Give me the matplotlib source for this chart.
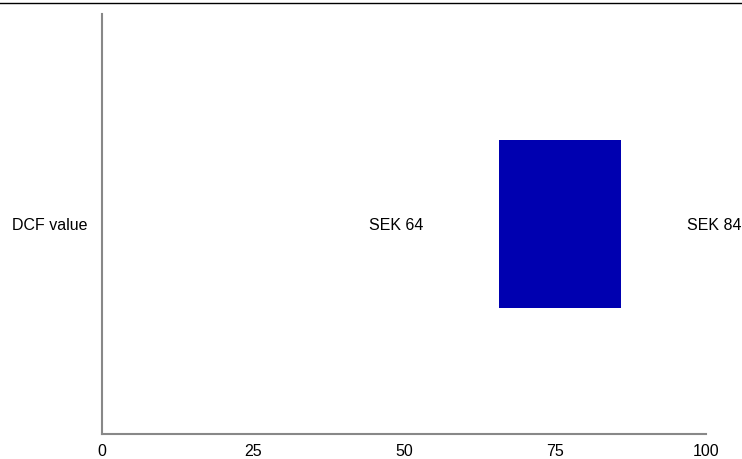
import matplotlib
matplotlib.use("Agg")
import matplotlib.pyplot as plt
from matplotlib.lines import Line2D

plt.rcParams['font.family'] = ['Liberation Sans', 'DejaVu Sans']

# values
category = ["DCF value"]
bar_start = [65.7]
bar_end = [85.9]
low_label = ["SEK 64"]
high_label = ["SEK 84"]
xticks = [0, 25, 50, 75, 100]

W, H = 742, 459
fig = plt.figure(figsize=(W / 100, H / 100), dpi=100)
ax = fig.add_axes([102 / W, 1 - 434 / H, (706 - 102) / W, (434 - 14) / H])

widths = [e - s for s, e in zip(bar_start, bar_end)]
ax.barh([0], widths, left=bar_start, height=0.4, color="#0000b0")

ax.set_xlim(0, 100)
ax.set_ylim(-0.5, 0.5)
ax.set_xticks(xticks)
ax.set_xticklabels([str(t) for t in xticks], fontsize=11.5)
ax.set_yticks([])
ax.tick_params(axis="x", length=0, pad=7.5)

for side in ["top", "right"]:
    ax.spines[side].set_visible(False)
for side in ["left", "bottom"]:
    ax.spines[side].set_color("#888888")
    ax.spines[side].set_linewidth(1.5)

# row name at the far left of the figure
fig.text(12 / W, 1 - 226 / H, category[0], fontsize=11.5, ha="left", va="center")

# value labels beside the bar
ax.annotate(low_label[0], xy=(bar_start[0], 0), xytext=(-75, -1),
            textcoords="offset pixels", ha="right", va="center",
            fontsize=11.5, annotation_clip=False)
ax.annotate(high_label[0], xy=(bar_end[0], 0), xytext=(66, -1),
            textcoords="offset pixels", ha="left", va="center",
            fontsize=11.5, annotation_clip=False)

# thin rule across the top
fig.add_artist(Line2D([0, 1], [1 - 2.5 / H, 1 - 2.5 / H], color="black",
                      lw=1.0, transform=fig.transFigure))

fig.savefig("out.png", dpi=100)
